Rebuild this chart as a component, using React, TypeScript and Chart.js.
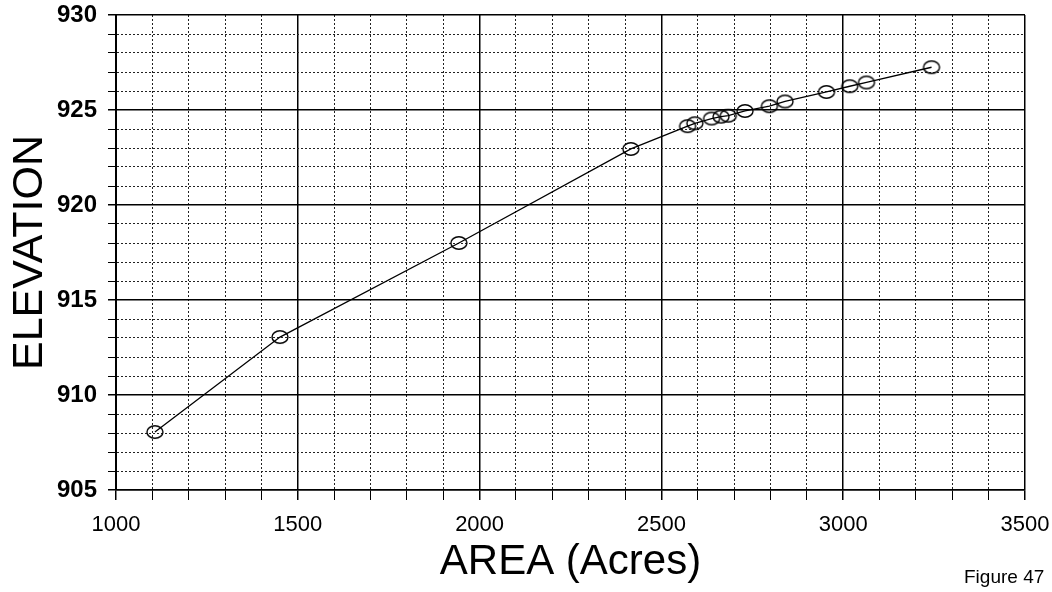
import React, { useEffect, useRef } from "react";
import { Chart, registerables } from "chart.js";

Chart.register(...registerables);

const AREA_ACRES = [1107, 1451, 1943, 2416, 2572, 2592, 2638, 2664, 2684, 2730, 2797, 2840, 2954, 3018, 3064, 3243];
const ELEVATION = [908.05, 913.05, 918, 922.95, 924.15, 924.3, 924.55, 924.65, 924.7, 924.95, 925.2, 925.45, 925.95, 926.25, 926.45, 927.25];

const X_MIN = 1000;
const X_MAX = 3500;
const X_MINOR_STEP = 100;
const X_MAJOR_STEP = 500;
const Y_MIN = 905;
const Y_MAX = 930;
const Y_MINOR_STEP = 1;
const Y_MAJOR_STEP = 5;

const X_TITLE = "AREA (Acres)";
const Y_TITLE = "ELEVATION";
const FIGURE_LABEL = "Figure 47";

const FONT = "'Liberation Sans', Arial, Helvetica, sans-serif";

function makeEllipse(): HTMLCanvasElement {
  const c = document.createElement("canvas");
  c.width = 20;
  c.height = 16;
  const g = c.getContext("2d")!;
  g.strokeStyle = "#000";
  g.lineWidth = 1.4;
  g.beginPath();
  g.ellipse(10, 8, 8, 6.2, 0, 0, Math.PI * 2);
  g.stroke();
  return c;
}

const isMajor = (v: number, step: number) => Math.abs(v / step - Math.round(v / step)) < 1e-6;

export default function App() {
  const ref = useRef<HTMLCanvasElement | null>(null);

  useEffect(() => {
    if (!ref.current) return;
    const marker = makeEllipse();
    const points = AREA_ACRES.map((x, i) => ({ x, y: ELEVATION[i] }));

    const gridColor = (step: number) => (ctx: any) =>
      ctx.tick && isMajor(ctx.tick.value, step) ? "#000" : "#222";
    const gridWidth = (step: number) => (ctx: any) =>
      ctx.tick && isMajor(ctx.tick.value, step) ? 1.5 : 1;
    const gridDash = (step: number) => (ctx: any) =>
      ctx.tick && !isMajor(ctx.tick.value, step) ? [2, 2] : [];

    const chart = new Chart(ref.current, {
      type: "scatter",
      data: {
        datasets: [
          {
            data: points,
            showLine: true,
            borderColor: "#000",
            borderWidth: 1.3,
            tension: 0,
            pointStyle: marker as any,
            pointRadius: 8,
            pointHoverRadius: 8,
          },
        ],
      },
      options: {
        animation: false,
        responsive: true,
        maintainAspectRatio: false,
        layout: { padding: { top: 15, right: 27, bottom: 0, left: 0 } },
        plugins: { legend: { display: false }, tooltip: { enabled: false } },
        scales: {
          x: {
            type: "linear",
            min: X_MIN,
            max: X_MAX,
            afterFit: (s: any) => {
              s.height = 102;
              s.paddingLeft = 0;
              s.paddingRight = 0;
            },
            ticks: {
              stepSize: X_MINOR_STEP,
              autoSkip: false,
              maxRotation: 0,
              padding: 12,
              color: "#000",
              font: { family: FONT, size: 22 },
              callback: (v: any) => (isMajor(Number(v), X_MAJOR_STEP) ? String(v) : ""),
            },
            grid: {
              color: gridColor(X_MAJOR_STEP),
              lineWidth: gridWidth(X_MAJOR_STEP),
              tickLength: 10,
              tickColor: "#000",
            },
            border: { display: true, color: "#000", width: 1.5, dash: gridDash(X_MAJOR_STEP) },
            title: {
              display: true,
              text: X_TITLE,
              color: "#000",
              font: { family: FONT, size: 42 },
              padding: { top: 0, bottom: 4 },
            },
          },
          y: {
            type: "linear",
            min: Y_MIN,
            max: Y_MAX,
            afterFit: (s: any) => {
              s.width = 116;
              s.paddingTop = 0;
              s.paddingBottom = 0;
            },
            ticks: {
              stepSize: Y_MINOR_STEP,
              autoSkip: false,
              padding: 11,
              color: "#000",
              font: { family: FONT, size: 24, weight: "bold" },
              callback: (v: any) => (isMajor(Number(v), Y_MAJOR_STEP) ? String(v) : ""),
            },
            grid: {
              color: gridColor(Y_MAJOR_STEP),
              lineWidth: gridWidth(Y_MAJOR_STEP),
              tickLength: 8,
              tickColor: "#000",
            },
            border: { display: true, color: "#000", width: 2, dash: gridDash(Y_MAJOR_STEP) },
            title: {
              display: true,
              text: Y_TITLE,
              color: "#000",
              font: { family: FONT, size: 43 },
              padding: { top: 4, bottom: 0 },
            },
          },
        },
      },
    });
    return () => chart.destroy();
  }, []);

  return (
    <div style={{ position: "fixed", left: 0, top: 0, width: 1052, height: 592, background: "#fff" }}>
      <canvas ref={ref} />
      <div
        style={{
          position: "absolute",
          left: 964,
          top: 567,
          fontFamily: FONT,
          fontSize: 19,
          lineHeight: "19px",
          color: "#000",
          whiteSpace: "nowrap",
        }}
      >
        {FIGURE_LABEL}
      </div>
    </div>
  );
}
